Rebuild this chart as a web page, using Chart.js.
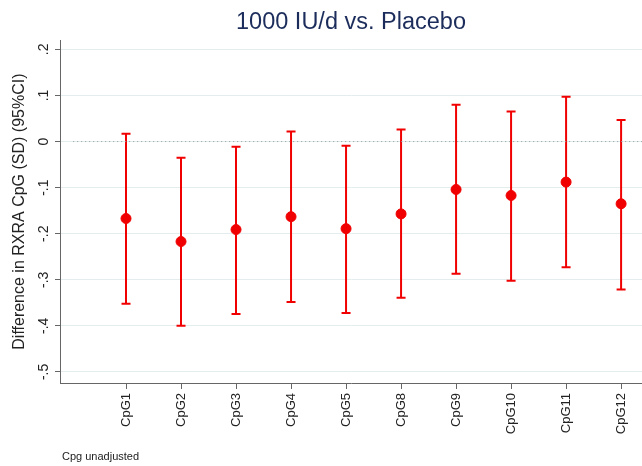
<!DOCTYPE html>
<html>
<head>
<meta charset="utf-8">
<script src="https://cdn.jsdelivr.net/npm/chart.js@4.4.1/dist/chart.umd.min.js"></script>
<style>
  html, body { margin: 0; padding: 0; background: #fff; overflow: hidden; }
  #wrap { width: 642px; height: 466px; }
</style>
</head>
<body>
<div id="wrap"><canvas id="chart1" width="642" height="466"></canvas></div>
<script>
// data
var categories = ["CpG1", "CpG2", "CpG3", "CpG4", "CpG5", "CpG8", "CpG9", "CpG10", "CpG11", "CpG12"];
var estimate = [-0.167, -0.217, -0.191, -0.163, -0.189, -0.157, -0.104, -0.117, -0.088, -0.135];
var ciLower  = [-0.352, -0.400, -0.374, -0.348, -0.372, -0.339, -0.287, -0.302, -0.273, -0.321];
var ciUpper  = [ 0.017, -0.035, -0.011,  0.022, -0.009,  0.026,  0.080,  0.065,  0.097,  0.047];
var yTickValues = [0.2, 0.1, 0, -0.1, -0.2, -0.3, -0.4, -0.5];
var yTickLabels = [".2", ".1", "0", "-.1", "-.2", "-.3", "-.4", "-.5"];

var red = "#f00000";

// points for the estimates
var estPoints = [];
// error bars: lo, hi, gap, lo, hi, gap...
var ciPoints = [];
for (var i = 0; i < categories.length; i++) {
  estPoints.push({x: i, y: estimate[i]});
  ciPoints.push({x: i, y: ciLower[i]});
  ciPoints.push({x: i, y: ciUpper[i]});
  ciPoints.push({x: i, y: null});
}

// rotated y labels, y title and the footnote
var extraText = {
  id: 'extraText',
  afterDraw: function(chart) {
    var ctx = chart.ctx;
    var ys = chart.scales.y;
    ctx.save();
    ctx.fillStyle = "#222";
    ctx.textAlign = "center";
    ctx.textBaseline = "middle";
    ctx.font = "14px 'Liberation Sans', Arial, sans-serif";
    yTickValues.forEach(function(v, k) {
      ctx.save();
      ctx.translate(44, ys.getPixelForValue(v));
      ctx.rotate(-Math.PI / 2);
      ctx.fillText(yTickLabels[k], 0, 0);
      ctx.restore();
    });
    ctx.font = "16px 'Liberation Sans', Arial, sans-serif";
    ctx.save();
    ctx.translate(20, (chart.chartArea.top + chart.chartArea.bottom) / 2);
    ctx.rotate(-Math.PI / 2);
    ctx.fillText("Difference in RXRA CpG (SD) (95%CI)", 0, 0);
    ctx.restore();
    ctx.textAlign = "left";
    ctx.font = "11px 'Liberation Sans', Arial, sans-serif";
    ctx.fillText("Cpg unadjusted", 62, 457);
    ctx.restore();
  }
};

var config = {
  type: 'scatter',
  data: {
    datasets: [{
      type: 'line',
      data: [{x: -0.96, y: 0}, {x: 9.38, y: 0}],
      borderColor: "#8f9c9c",
      borderWidth: 1,
      borderDash: [1, 3],
      pointRadius: 0
    }, {
      type: 'line',
      data: ciPoints,
      borderColor: red,
      borderWidth: 2,
      spanGaps: false,
      pointStyle: 'line',
      pointRadius: 4.5,
      pointBorderWidth: 2,
      pointBorderColor: red,
      pointHoverRadius: 4.5
    }, {
      data: estPoints,
      backgroundColor: red,
      borderColor: red,
      pointRadius: 5,
      pointHoverRadius: 5
    }]
  },
  options: {
    responsive: false,
    animation: false,
    layout: { padding: 0, autoPadding: false },
    plugins: {
      legend: { display: false },
      tooltip: { enabled: false },
      title: {
        display: true,
        text: "1000 IU/d vs. Placebo",
        color: "#1c2d5c",
        fullSize: false,
        font: { family: "'Liberation Sans', Arial, sans-serif", size: 23.5, weight: 'normal' },
        padding: { top: 8, bottom: 4 }
      }
    },
    scales: {
      x: {
        type: 'linear',
        min: -1.2,
        max: 9.38,
        afterBuildTicks: function(scale) {
          scale.ticks = categories.map(function(c, k) { return {value: k}; });
        },
        afterFit: function(scale) {
          scale.height = 83;
          scale.paddingLeft = 0;
          scale.paddingRight = 0;
        },
        grid: { drawOnChartArea: false, drawTicks: true, tickLength: 6, tickColor: "#666", lineWidth: 1 },
        border: { display: true, color: "#666", width: 1 },
        ticks: {
          minRotation: 90,
          maxRotation: 90,
          padding: 4,
          color: "#222",
          font: { family: "'Liberation Sans', Arial, sans-serif", size: 13 },
          callback: function(v) { return categories[v]; }
        }
      },
      y: {
        min: -0.524,
        max: 0.22,
        afterBuildTicks: function(scale) {
          scale.ticks = yTickValues.map(function(v) { return {value: v}; });
        },
        afterFit: function(scale) { scale.width = 60; },
        grid: { color: "#e3eded", lineWidth: 1, tickLength: 5, tickColor: "#666" },
        border: { display: true, color: "#666", width: 1 },
        ticks: { display: false }
      }
    }
  },
  plugins: [extraText]
};

var ctx1 = document.getElementById("chart1");
var myChart = new Chart(ctx1, config);
</script>
</body>
</html>
